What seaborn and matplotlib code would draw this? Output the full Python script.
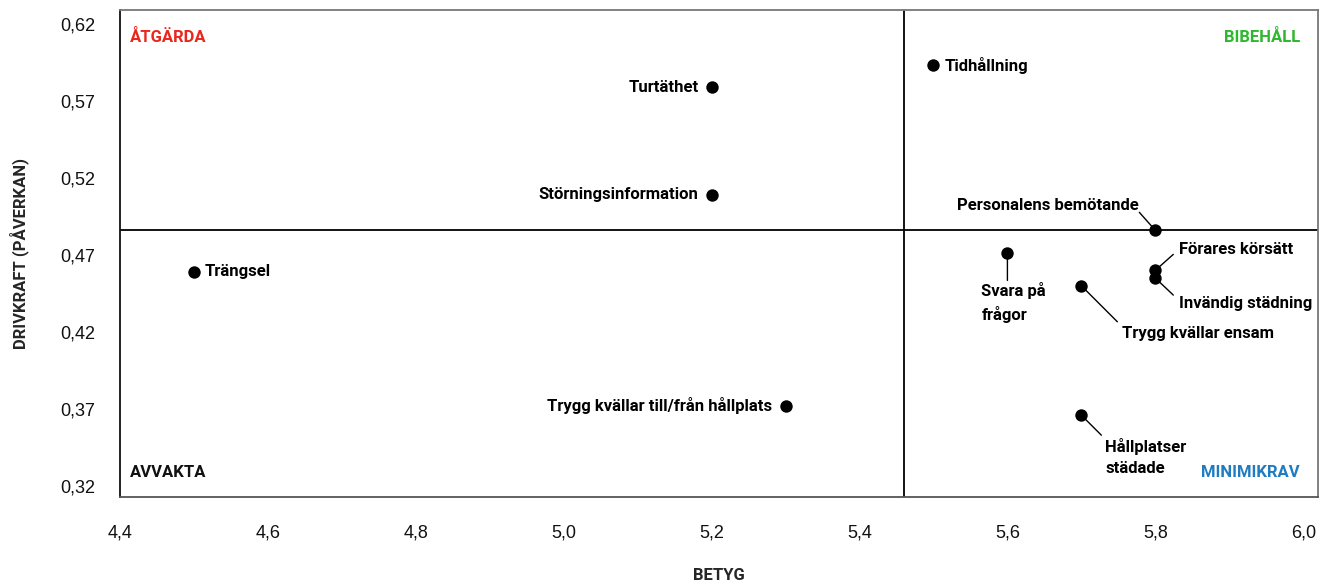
import matplotlib
matplotlib.use("Agg")
import matplotlib.pyplot as plt
import seaborn as sns
import pandas as pd
from matplotlib.ticker import FuncFormatter

# ---- data ----
names = ["Tidhållning", "Turtäthet", "Störningsinformation", "Personalens bemötande",
         "Förares körsätt", "Invändig städning", "Svara på\nfrågor", "Trygg kvällar ensam",
         "Trängsel", "Trygg kvällar till/från hållplats", "Hållplatser\nstädade"]
betyg = [5.5, 5.2, 5.2, 5.8, 5.8, 5.8, 5.6, 5.7, 4.5, 5.3, 5.7]
drivkraft = [0.593, 0.579, 0.509, 0.486, 0.460, 0.455, 0.471, 0.450, 0.459, 0.372, 0.366]

x_ticks = [4.4, 4.6, 4.8, 5.0, 5.2, 5.4, 5.6, 5.8, 6.0]
y_ticks = [0.32, 0.37, 0.42, 0.47, 0.52, 0.57, 0.62]
x_split = 5.46
y_split = 0.486

quadrants = ["ÅTGÄRDA", "BIBEHÅLL", "AVVAKTA", "MINIMIKRAV"]
quad_colors = ["#e8271d", "#2eb82e", "#111111", "#1f7cc1"]

df = pd.DataFrame({"namn": names, "betyg": betyg, "drivkraft": drivkraft})

# ---- style ----
sns.set_theme(style="white")
plt.rcParams["font.family"] = ["Liberation Sans", "DejaVu Sans"]
LBL_FONT = ["Roboto", "DejaVu Sans"]

fig = plt.figure(figsize=(13.2, 5.85), dpi=100)
ax = fig.add_axes([120 / 1320, 1 - 497 / 585, 1198 / 1320, 487 / 585])

sns.scatterplot(data=df, x="betyg", y="drivkraft", ax=ax, s=80, color="black",
                edgecolor="black", linewidth=0, zorder=3, legend=False)

ax.set_xlim(4.4, 6.02)
ax.set_ylim(0.3129, 0.629)
ax.axvline(x_split, color="black", lw=1.3, zorder=1)
ax.axhline(y_split, color="black", lw=1.3, zorder=1)

ax.set_xticks(x_ticks)
ax.set_yticks(y_ticks)
ax.xaxis.set_major_formatter(FuncFormatter(lambda v, p: f"{v:.1f}".replace(".", ",")))
ax.yaxis.set_major_formatter(FuncFormatter(lambda v, p: f"{v:.2f}".replace(".", ",")))
ax.tick_params(axis="both", length=0, labelsize=13, colors="#111111")
ax.tick_params(axis="x", pad=20)
ax.tick_params(axis="y", pad=18)

for side, col in [("left", "#111111"), ("bottom", "#555555"), ("top", "#777777"), ("right", "#777777")]:
    ax.spines[side].set_visible(True)
    ax.spines[side].set_color(col)
    ax.spines[side].set_linewidth(1.3)

ax.set_xlabel("BETYG", fontsize=12, fontweight="bold", family=LBL_FONT, labelpad=19)
ax.set_ylabel("DRIVKRAFT (PÅVERKAN)", fontsize=12, fontweight="bold", family=LBL_FONT, labelpad=22)

# ---- point labels (layout: text offset, alignment, optional leader end) ----
layout = {
    "Tidhållning": dict(t=(11, 0), ha="left", va="center"),
    "Turtäthet": dict(t=(-13, 0), ha="right", va="center"),
    "Störningsinformation": dict(t=(-13, 0), ha="right", va="center"),
    "Personalens bemötande": dict(t=(-17, 25), ha="right", va="center", l=(-16, 18)),
    "Förares körsätt": dict(t=(24, 21), ha="left", va="center", l=(18, 16)),
    "Invändig städning": dict(t=(24, -25), ha="left", va="center", l=(18, -17)),
    "Svara på\nfrågor": dict(t=(-26, -29), ha="left", va="top", l=(0, -27)),
    "Trygg kvällar ensam": dict(t=(41, -48), ha="left", va="center", l=(36, -36)),
    "Trängsel": dict(t=(11, 0), ha="left", va="center"),
    "Trygg kvällar till/från hållplats": dict(t=(-13, 0), ha="right", va="center"),
    "Hållplatser\nstädade": dict(t=(24, -23), ha="left", va="top", l=(20, -20)),
}

for n, xv, yv in zip(names, betyg, drivkraft):
    L = layout[n]
    if "l" in L:
        ax.annotate("", xy=(xv, yv), xytext=L["l"], textcoords="offset pixels",
                    arrowprops=dict(arrowstyle="-", color="black", lw=1,
                                    shrinkA=0, shrinkB=4), zorder=2)
    ax.annotate(n, xy=(xv, yv), xytext=L["t"], textcoords="offset pixels",
                ha=L["ha"], va=L["va"], fontsize=12, fontweight="bold",
                family=LBL_FONT, color="black", linespacing=1.45, zorder=4)

# ---- quadrant labels ----
qpos = [(0.008, 0.945, "left"), (0.985, 0.945, "right"),
        (0.008, 0.05, "left"), (0.985, 0.05, "right")]
for q, c, (px, py, ha) in zip(quadrants, quad_colors, qpos):
    ax.text(px, py, q, transform=ax.transAxes,
            ha=ha, va="center", fontsize=12, fontweight="bold",
            family=LBL_FONT, color=c)

fig.savefig("out.png", dpi=100)
